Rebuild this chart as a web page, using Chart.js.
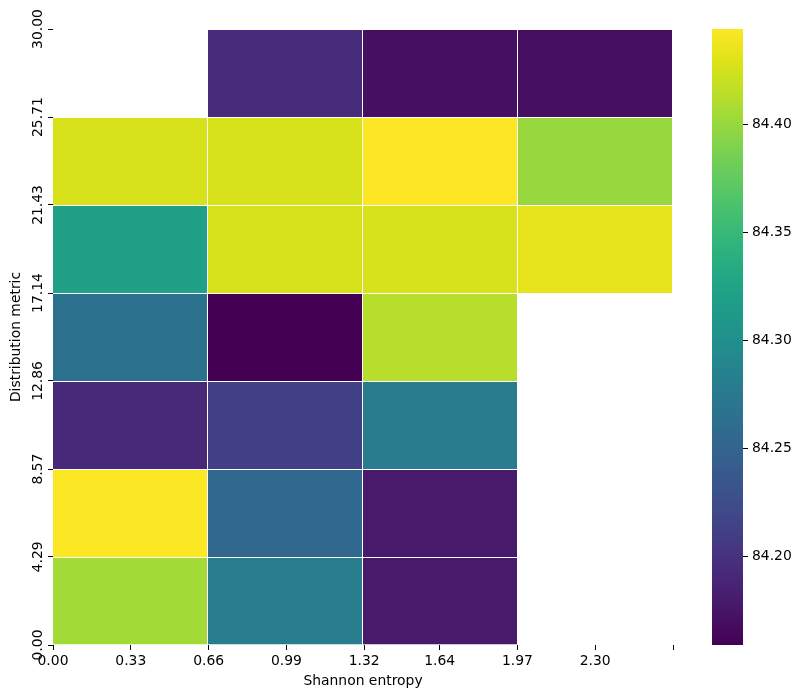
<!DOCTYPE html>
<html>
<head>
<meta charset="utf-8">
<script src="https://cdn.jsdelivr.net/npm/chart.js@4.4.1/dist/chart.umd.min.js"></script>
<style>
    html, body { margin: 0; padding: 0; background: #fff; }
    #main { position: absolute; left: 0; top: 0; width: 690px; height: 698px; }
    #cbar { position: absolute; left: 690px; top: 0; width: 112px; height: 698px; }
</style>
</head>
<body>
<div id="main"><canvas id="heatmap"></canvas></div>
<div id="cbar"><canvas id="colorbar"></canvas></div>
<script>
// columns = Shannon entropy bins, rows = distribution metric bins (bottom to top)
const colBins = ['0.00-0.66', '0.66-1.32', '1.32-1.97', '1.97-2.63'];
const rowEdges = [0, 4.29, 8.57, 12.86, 17.14, 21.43, 25.71, 30];

const row0 = [84.404, 84.279, 84.179, null];
const row1 = [84.443, 84.254, 84.179, null];
const row2 = [84.192, 84.212, 84.277, null];
const row3 = [84.266, 84.159, 84.413, null];
const row4 = [84.321, 84.427, 84.427, 84.434];
const row5 = [84.427, 84.427, 84.444, 84.400];
const row6 = [null, 84.195, 84.170, 84.170];
const rows = [row0, row1, row2, row3, row4, row5, row6];

const xTickValues = [0, 0.33, 0.66, 0.99, 1.32, 1.64, 1.97, 2.30, 2.63];
const xTickLabels = ['0.00', '0.33', '0.66', '0.99', '1.32', '1.64', '1.97', '2.30', ''];
const yTickLabels = ['0.00', '4.29', '8.57', '12.86', '17.14', '21.43', '25.71', '30.00'];
const cbTicks = [84.20, 84.25, 84.30, 84.35, 84.40];

// viridis stops
const viridis = ['#440154', '#471365', '#482475', '#463480', '#414487', '#3b528b', '#355f8d',
    '#2f6c8e', '#2a788e', '#25848e', '#21918c', '#1e9c89', '#22a884', '#2fb47c', '#44bf70',
    '#5ec962', '#7ad151', '#9bd93c', '#bddf26', '#dfe318', '#fde725'];

const allVals = rows.flat().filter(v => v !== null);
const vmin = Math.min(...allVals);
const vmax = Math.max(...allVals);

const hexToRgb = (h) => [1, 3, 5].map(i => parseInt(h.slice(i, i + 2), 16));

const colorFor = (v) => {
    if (v === null) return 'rgba(0,0,0,0)';
    let t = (v - vmin) / (vmax - vmin);
    t = Math.max(0, Math.min(1, t));
    const pos = t * (viridis.length - 1);
    const i = Math.min(Math.floor(pos), viridis.length - 2);
    const f = pos - i;
    const a = hexToRgb(viridis[i]), b = hexToRgb(viridis[i + 1]);
    const c = a.map((x, k) => Math.round(x + (b[k] - x) * f));
    return `rgb(${c[0]},${c[1]},${c[2]})`;
};

const FONT = { family: 'DejaVu Sans', size: 13.9 };
Chart.defaults.color = '#000';
Chart.defaults.font = FONT;

const tickGrid = { drawOnChartArea: false, drawTicks: true, tickLength: 5, color: '#000', lineWidth: 1, offset: false };

const datasets = rows.map((vals, r) => ({
    label: 'row ' + r,
    data: vals.map(v => v === null ? null : [rowEdges[r], rowEdges[r + 1]]),
    backgroundColor: vals.map(colorFor),
    borderColor: '#fff',
    borderWidth: { top: 1, right: 1, left: 0, bottom: 0 },
    borderSkipped: false,
    inflateAmount: 0,
    grouped: false,
    barPercentage: 1,
    categoryPercentage: 1,
    xAxisID: 'x',
    yAxisID: 'y'
}));

new Chart(document.getElementById('heatmap'), {
    type: 'bar',
    data: { labels: colBins, datasets: datasets },
    options: {
        responsive: true,
        maintainAspectRatio: false,
        animation: false,
        layout: { padding: { left: 0, top: 29, right: 17, bottom: 0 } },
        plugins: { legend: { display: false }, tooltip: { enabled: false } },
        scales: {
            x: { display: false },
            xt: {
                type: 'linear',
                position: 'bottom',
                offset: false,
                min: 0,
                max: 2.63,
                afterBuildTicks: (scale) => { scale.ticks = xTickValues.map(v => ({ value: v })); },
                afterFit: (scale) => { scale.height = 53; },
                ticks: {
                    autoSkip: false,
                    maxRotation: 0,
                    padding: 3,
                    callback: (val, i) => xTickLabels[i]
                },
                grid: tickGrid,
                border: { display: false },
                title: { display: true, text: 'Shannon entropy', font: FONT, padding: { top: 0, bottom: 8 } }
            },
            y: {
                type: 'linear',
                offset: false,
                min: 0,
                max: 30,
                afterBuildTicks: (scale) => { scale.ticks = rowEdges.map(v => ({ value: v })); },
                afterFit: (scale) => { scale.width = 53; },
                ticks: {
                    autoSkip: false,
                    minRotation: 90,
                    maxRotation: 90,
                    crossAlign: 'center',
                    padding: -10,
                    callback: (val, i) => yTickLabels[i]
                },
                grid: tickGrid,
                border: { display: false },
                title: { display: true, text: 'Distribution metric', font: FONT, padding: { top: 8, bottom: 0 } }
            }
        }
    }
});

new Chart(document.getElementById('colorbar'), {
    type: 'bar',
    data: {
        labels: [''],
        datasets: [{
            data: [[vmin, vmax]],
            backgroundColor: (ctx) => {
                const area = ctx.chart.chartArea;
                if (!area) return viridis[10];
                const g = ctx.chart.ctx.createLinearGradient(0, area.bottom, 0, area.top);
                viridis.forEach((c, i) => g.addColorStop(i / (viridis.length - 1), c));
                return g;
            },
            borderWidth: 0,
            inflateAmount: 0,
            barPercentage: 1,
            categoryPercentage: 1
        }]
    },
    options: {
        responsive: true,
        maintainAspectRatio: false,
        animation: false,
        layout: { padding: { left: 22, top: 29, right: 0, bottom: 53 } },
        plugins: { legend: { display: false }, tooltip: { enabled: false } },
        scales: {
            x: { display: false },
            y: {
                position: 'right',
                min: vmin,
                max: vmax,
                afterBuildTicks: (scale) => { scale.ticks = cbTicks.map(v => ({ value: v })); },
                afterFit: (scale) => { scale.width = 59; },
                ticks: { padding: 4, callback: (val) => val.toFixed(2) },
                grid: tickGrid,
                border: { display: false }
            }
        }
    }
});
</script>
</body>
</html>
